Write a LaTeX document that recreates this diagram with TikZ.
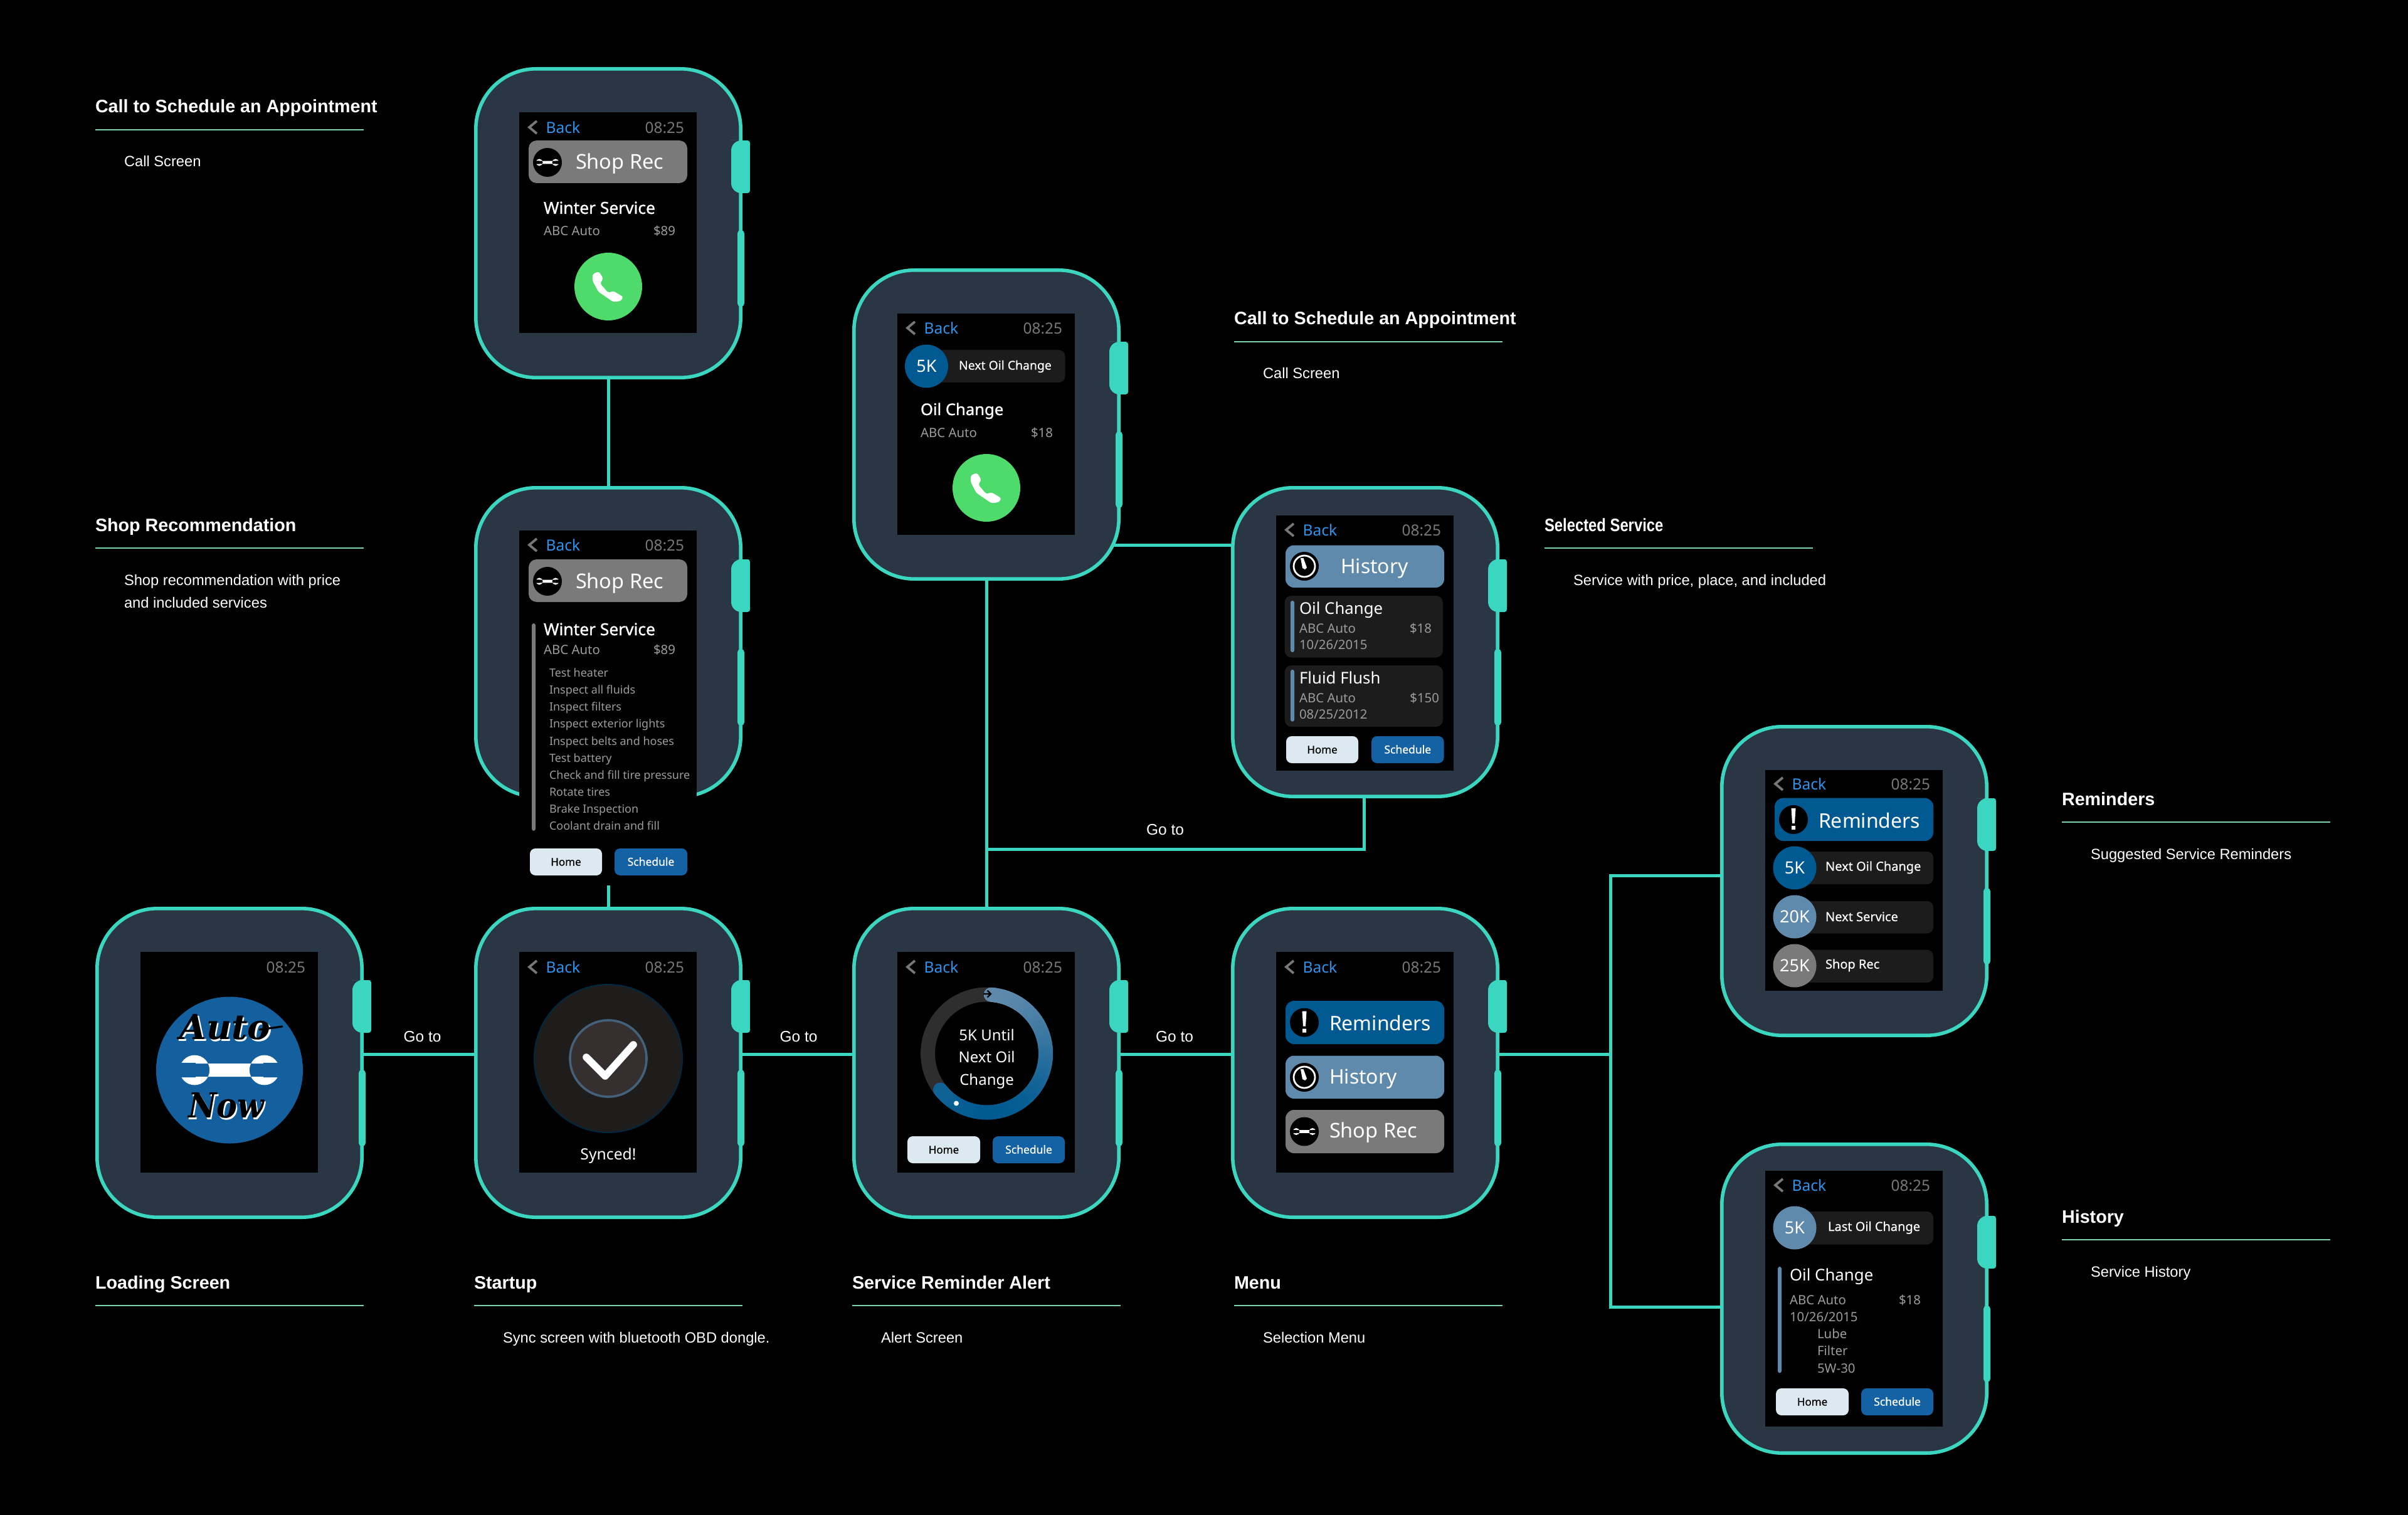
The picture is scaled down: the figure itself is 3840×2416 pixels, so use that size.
\documentclass[tikz,border=0pt]{standalone}
\usepackage{fontspec}
\usetikzlibrary{backgrounds}
\newfontfamily\uifont{Noto Sans}
\newfontfamily\uibold[FakeBold=1.1]{Noto Sans}
\newfontfamily\uimed[FakeBold=.45]{Noto Sans}
\newfontfamily\capfont{Liberation Sans}
\newfontfamily\logofont{DejaVu Serif}
\definecolor{tealc}{HTML}{3AD6BF}
\definecolor{bodyc}{HTML}{2B3644}
\definecolor{rulec}{HTML}{7BD3AE}
\definecolor{backc}{HTML}{2F93EC}
\definecolor{timec}{HTML}{787878}
\definecolor{subc}{HTML}{9C9C9C}
\definecolor{navyc}{HTML}{005A91}
\definecolor{steelc}{HTML}{5F8AAC}
\definecolor{grayc}{HTML}{7A7A7A}
\definecolor{cardc}{HTML}{1C1C1C}
\definecolor{homec}{HTML}{DCE9F1}
\definecolor{schedc}{HTML}{1462A3}
\definecolor{logoc}{HTML}{14609F}
\definecolor{greenc}{HTML}{4FDB6B}
\definecolor{ringc}{HTML}{2E2E2E}
\definecolor{syncc}{HTML}{1E1D1C}
\definecolor{syncd}{HTML}{362F30}
\tikzset{
  watchbody/.style={draw=tealc,fill=bodyc,line width=1.4pt,rounded corners=24pt,
    minimum width=105.6pt,minimum height=123.1pt,inner sep=0pt,outer sep=0pt},
  conn/.style={draw=tealc,line width=1.25pt},
  txt/.style={inner sep=0pt,outer sep=0pt,font=\uifont},
  golabel/.style={inner sep=0pt,outer sep=0pt,text=white,anchor=base,font=\capfont\fontsize{6.12}{7}\selectfont},
}
\newcounter{tn}
\newcommand\szf[1]{\pgfmathsetmacro\szz{#1*.25}\fontsize{\szz}{\szz}\selectfont}
% optional anchor; x, y(baseline), px size, colour, text
\newcommand\tx[6][base west]{\stepcounter{tn}\node[txt,anchor=#1,text=#5,name=t\arabic{tn}] at ({#2},{#3}) {\szf{#4}#6};}
\newcommand\txb[6][base west]{\stepcounter{tn}\node[txt,anchor=#1,text=#5,name=t\arabic{tn}] at ({#2},{#3}) {\uibold\szf{#4}#6};}
\newcommand\txm[6][base west]{\stepcounter{tn}\node[txt,anchor=#1,text=#5,name=t\arabic{tn}] at ({#2},{#3}) {\uimed\szf{#4}#6};}
\newcommand\logotx[5]{\stepcounter{tn}\node[txt,anchor=base,text=#3,name=t\arabic{tn}] at ({#1},{#2}) {\logofont\bfseries\itshape\szf{55}\scalebox{#5}[1]{#4}};}
% caption: x, rule y, title, first line
\newcommand\capt[4]{%
  \stepcounter{tn}\node[inner sep=0pt,outer sep=0pt,anchor=base west,text=white,name=t\arabic{tn}] at (#1,#2-27) {\capfont\bfseries\szf{28.7}#3};
  \draw[rulec,line width=.5pt] (#1,#2) -- (#1+428,#2);
  \stepcounter{tn}\node[inner sep=0pt,outer sep=0pt,anchor=base west,text=white,name=t\arabic{tn}] at (#1+46,#2+59) {\capfont\szf{23.7}#4};}
\newcommand\capline[3]{\stepcounter{tn}\node[inner sep=0pt,outer sep=0pt,anchor=base west,text=white,name=t\arabic{tn}] at (#1,#2) {\capfont\szf{23.7}#3};}
% watch: name, screen top, screen height
\newcommand\watch[3]{%
  \node[watchbody] (#1) at (214,249) {};
  \fill[tealc] (425,117) [rounded corners=1pt] -- (440,117) -- (440,201) -- (425,201) [rounded corners=4pt] -- (410,201) -- (410,117) -- cycle;
  \fill[tealc,rounded corners=1.3pt] (420,260) rectangle (431,382);
  \fill[black] (72,#2) rectangle (355,#2+#3);}
\newcommand\clocktime[1]{\tx[base east]{335}{#1+9.5}{24.4}{timec}{08:25}}
\newcommand\backbar[1]{%
  \draw[timec,line width=.95pt] (100,#1-10) -- (88,#1) -- (100,#1+10);
  \tx{114.5}{#1+9.5}{24.6}{backc}{Back}\clocktime{#1}}
\newcommand\rr[6]{\fill[#5,rounded corners=#6pt] (#1,#2) rectangle (#3,#4);}
\newcommand\hometwo[5]{% home x1, x2, sched x1, sched x2 ; y top
  \rr{#1}{#5}{#2}{#5+43}{homec}{2.2}\rr{#3}{#5}{#4}{#5+43}{schedc}{2.2}
  \txm[base]{(#1+#2)/2}{#5+27.5}{17}{black}{Home}\txm[base]{(#3+#4)/2}{#5+27.5}{17.5}{white}{Schedule}}
\newcommand\wrench[4]{% cx cy width notch
  \begin{scope}[shift={(#1,#2)},scale=#3/100]
    \fill[white] (-35,0) circle [radius=15] (35,0) circle [radius=15] (-35,-6.6) rectangle (35,6.6);
    \fill[#4] (-34,-7.3) rectangle (-54,7.3) (34,-7.3) rectangle (54,7.3);
  \end{scope}}
\newcommand\iconwrench[2]{\fill[black] (#1,#2) circle [radius=23];\wrench{#1}{#2}{37}{black}}
\newcommand\iconalert[2]{\fill[black] (#1,#2) circle [radius=23];
  \begin{scope}[shift={(#1,#2)}]
  \fill[white] (-3.5,-18) -- (3.5,-18) -- (2,6) -- (-2,6) -- cycle (-3,10) rectangle (3,16);
  \end{scope}}
\newcommand\iconclock[2]{\fill[black] (#1,#2) circle [radius=23];
  \begin{scope}[shift={(#1,#2)}]
  \draw[white,line width=.7pt] (0,0) circle [radius=17];
  \fill[white] (-6,-13) -- (-1.5,-13) -- (4,2) -- (1,5) -- (-3,3) -- cycle;
  \end{scope}}
\newcommand\phonebtn{%
  \fill[greenc] (214,350) circle [radius=54];
  \begin{scope}[shift={(214,350)}]
  \fill[white,rounded corners=.8pt] (-25,-20) -- (-15,-24) -- (-8,-13) -- (-13,-5) -- (0,10) -- (8,7) -- (24,16.5) -- (20,23) -- (8,24.5) -- (-16,8) -- (-25,-9) -- cycle;
  \end{scope}}
\newcommand\pill[8]{% y1 y2 cy colour label text xtext text baseline
  \rr{100}{#1}{340}{#2}{cardc}{2.5}
  \fill[#4] (119,#3) circle [radius=34.5];
  \tx[base]{119}{#3+9.5}{27}{white}{#5}
  \txm{#7}{#8}{20}{white}{#6}}
\begin{document}
\begin{tikzpicture}[x=.25pt,y=-.25pt]
\useasboundingbox (0,0) rectangle (3840,2416);
% ---- W1
\begin{scope}[shift={(756,107)}]
 \watch{w1}{72}{352}\backbar{96}
 \rr{87}{117}{340}{185}{grayc}{3.2}\iconwrench{117}{152}
 \tx{162}{163}{32.5}{white}{Shop Rec}
 \txb{111}{234}{26.4}{white}{Winter Service}
 \tx{111}{269}{20.4}{subc}{ABC Auto}\tx[base east]{321}{269}{20.4}{subc}{\$89}
 \phonebtn
\end{scope}
% ---- W2
\begin{scope}[shift={(756,775)}]
 \watch{w2}{71}{566}\backbar{94}
 \rr{87}{117}{340}{185}{grayc}{3.2}\iconwrench{117}{152}
 \tx{162}{163}{32.5}{white}{Shop Rec}
 \rr{92}{219}{98}{550}{grayc}{.8}
 \txb{111}{238}{26.4}{white}{Winter Service}
 \tx{111}{268.7}{20.4}{subc}{ABC Auto}\tx[base east]{321}{268.7}{20.4}{subc}{\$89}
 \tx{120}{304.6}{18}{subc}{Test heater}
 \tx{120}{331.7}{18}{subc}{Inspect all fluids}
 \tx{120}{358.8}{18}{subc}{Inspect filters}
 \tx{120}{385.9}{18}{subc}{Inspect exterior lights}
 \tx{120}{413}{18}{subc}{Inspect belts and hoses}
 \tx{120}{440.1}{18}{subc}{Test battery}
 \tx{120}{467.2}{18}{subc}{Check and fill tire pressure}
 \tx{120}{494.3}{18}{subc}{Rotate tires}
 \tx{120}{521.4}{18}{subc}{Brake Inspection}
 \tx{120}{548.5}{18}{subc}{Coolant drain and fill}
 \hometwo{89}{204}{224}{340}{578}
\end{scope}
% ---- W3
\begin{scope}[shift={(152,1446)}]
 \watch{w3}{72}{352}\clocktime{96}
 \fill[logoc] (214,260.5) circle [radius=117];
 \wrench{214}{260.5}{159}{logoc}
 \logotx{209.5}{214}{white}{Auto}{1}
 \logotx{207}{211}{black}{Auto}{1}
 \draw[black,line width=.8pt,line cap=round] (262,196) -- (298,191);
 \logotx{211}{339}{white}{Now}{.9}
 \logotx{208.5}{336}{black}{Now}{.9}
\end{scope}
% ---- W4
\begin{scope}[shift={(756,1446)}]
 \watch{w4}{72}{352}\backbar{96}
 \filldraw[fill=syncc,draw=black!55!navyc,line width=.5pt] (214,242) circle [radius=118];
 \filldraw[fill=syncd,draw=steelc!70!black,line width=.9pt] (214,242) circle [radius=61];
 \draw[white,line width=2.9pt,line cap=round,line join=round] (179,240) -- (209,270) -- (254,220);
 \tx[base]{214}{403}{24.7}{white}{Synced!}
\end{scope}
% ---- W5
\begin{scope}[shift={(1359,1446)}]
 \watch{w5}{72}{352}\backbar{96}
 \draw[ringc,line width=5.75pt] (214.6,234) circle [radius=94];
 \foreach \a in {86,82,...,-138}{
   \pgfmathsetmacro\p{100*(1+sin(\a))/2}
   \pgfmathsetmacro\xa{214.6+94*cos(\a)}
   \pgfmathsetmacro\ya{234-94*sin(\a)}
   \pgfmathsetmacro\xb{214.6+94*cos(\a-4)}
   \pgfmathsetmacro\yb{234-94*sin(\a-4)}
   \draw[steelc!\p!navyc,line width=5.75pt,line cap=round] (\xa,\ya) -- (\xb,\yb);
 }
 \draw[black,line width=.55pt] (209,139) -- (221,139) (215.5,133.5) -- (221,139) -- (215.5,144.5);
 \fill[white] (166,313.5) circle [radius=4];
 \tx[base]{214.6}{213}{24}{white}{5K Until}
 \tx[base]{214.6}{248}{24}{white}{Next Oil}
 \tx[base]{214.6}{284}{24}{white}{Change}
 \hometwo{88}{204}{224}{339}{366}
\end{scope}
% ---- W6
\begin{scope}[shift={(1963,1446)}]
 \watch{w6}{72}{352}\backbar{96}
 \rr{87}{150}{340}{219}{navyc}{3.4}\iconalert{117}{184.5}
 \tx{157}{197}{32}{white}{Reminders}
 \rr{87}{237.5}{340}{306}{steelc}{3.4}\iconclock{117}{272}
 \tx{157}{282}{32}{white}{History}
 \rr{87}{324}{340}{393}{grayc}{3.4}\iconwrench{117}{358.5}
 \tx{157}{368}{32.5}{white}{Shop Rec}
\end{scope}
% ---- W7
\begin{scope}[shift={(1359,428)}]
 \watch{w7}{72}{353}\backbar{95}
 \rr{100}{130}{339.5}{182}{cardc}{2.5}
 \fill[navyc] (118.5,156) circle [radius=34.5];
 \tx[base]{118.5}{165.5}{27}{white}{5K}
 \txm{170}{161.5}{19.4}{white}{Next Oil Change}
 \txb{109}{234}{25.6}{white}{Oil Change}
 \tx{109}{270}{20.4}{subc}{ABC Auto}\tx[base east]{320}{270}{20.4}{subc}{\$18}
 \phonebtn
\end{scope}
% ---- W8
\begin{scope}[shift={(1963,775)}]
 \watch{w8}{47}{407}\backbar{70}
 \rr{87}{94.5}{340}{162}{steelc}{3.4}\iconclock{117}{128}
 \tx{175}{139}{32}{white}{History}
 \rr{85.5}{175}{338}{273.5}{cardc}{2.8}
 \rr{95}{183}{101}{265}{steelc}{.7}
 \tx{109}{204.5}{25.8}{white}{Oil Change}
 \tx{109}{234}{20.4}{subc}{ABC Auto}\tx[base east]{320}{234}{20.4}{subc}{\$18}
 \tx{109}{260.6}{20.4}{subc}{10/26/2015}
 \rr{85.5}{286}{338}{384}{cardc}{2.8}
 \rr{95}{293}{101}{375.6}{steelc}{.7}
 \tx{109}{315}{25.8}{white}{Fluid Flush}
 \tx{109}{345}{20.4}{subc}{ABC Auto}\tx[base east]{332}{345}{20.4}{subc}{\$150}
 \tx{109}{371}{20.4}{subc}{08/25/2012}
 \hometwo{88}{203}{224}{339.5}{399}
\end{scope}
% ---- W9
\begin{scope}[shift={(2743,1156)}]
 \watch{w9}{72}{352}\backbar{94}
 \rr{87}{116.6}{340}{185}{navyc}{3.4}\iconalert{117}{151}
 \tx{157}{164}{32}{white}{Reminders}
 \pill{202}{254}{228}{navyc}{5K}{Next Oil Change}{168}{232.6}
 \pill{281}{332.5}{306}{steelc}{20K}{Next Service}{168}{313}
 \pill{358.6}{411}{384}{grayc}{25K}{Shop Rec}{168}{388.6}
\end{scope}
% ---- W10
\begin{scope}[shift={(2743,1822)}]
 \watch{w10}{45}{408}\backbar{68}
 \pill{110}{162.6}{136}{steelc}{5K}{Last Oil Change}{172}{141}
 \rr{92}{198}{98}{367.5}{steelc}{.8}
 \tx{111}{220}{25.8}{white}{Oil Change}
 \tx{111}{258}{20.4}{subc}{ABC Auto}\tx[base east]{320}{258}{20.4}{subc}{\$18}
 \tx{111}{285.5}{20.4}{subc}{10/26/2015}
 \tx{155}{312}{20.4}{subc}{Lube}
 \tx{155}{339.6}{20.4}{subc}{Filter}
 \tx{155}{367}{20.4}{subc}{5W-30}
 \hometwo{89}{205}{225}{340}{392}
\end{scope}
% ---- captions
\capt{152}{207}{Call to Schedule an Appointment}{Call Screen}
\capt{152}{874}{Shop Recommendation}{Shop recommendation with price}
\capline{198}{969}{and included services}
\capt{152}{2082}{Loading Screen}{}
\capt{756}{2082}{Startup}{Sync screen with bluetooth OBD dongle.}
\capt{1359}{2082}{Service Reminder Alert}{Alert Screen}
\capt{1968}{2082}{Menu}{Selection Menu}
\capt{1968}{545}{Call to Schedule an Appointment}{Call Screen}
\capt{2463}{874}{\scalebox{.83}[1]{Selected Service}}{Service with price, place, and included}
\capt{3288}{1311}{Reminders}{Suggested Service Reminders}
\capt{3288}{1977}{History}{Service History}
% ---- go-to labels
\node[golabel] (g1) at (673.5,1661) {Go to};
\node[golabel] (g2) at (1273.5,1661) {Go to};
\node[golabel] (g3) at (1873,1661) {Go to};
\node[golabel] (g4) at (1858,1331) {Go to};
% ---- connectors behind everything
\coordinate (hy) at (0,1681);
\coordinate (y78) at (1700,869);
\coordinate (y85) at (0,1354);
\coordinate (bus) at (2568,1681);
\coordinate (bt) at (2568,1396);
\coordinate (bb) at (2568,2084);
\begin{pgfonlayer}{background}
 \fill[black] (0,0) rectangle (3840,2416);
 \draw[conn] (w1.south) -- (w2.north);
 \draw[conn] (w2.south) -- (w4.north);
 \draw[conn] (w3.east |- hy) -- (w4.west |- hy);
 \draw[conn] (w4.east |- hy) -- (w5.west |- hy);
 \draw[conn] (w5.east |- hy) -- (w6.west |- hy);
 \draw[conn] (w6.east |- hy) -- (bus);
 \draw[conn] (w9.west |- bt) -- (bt) -- (bb) -- (w10.west |- bb);
 \draw[conn] (w5.north) -- (w7.south);
 \draw[conn] (y78) -- (w8.west |- y78);
 \draw[conn] ([xshift=-.5pt]w8.south) -- ([xshift=-.5pt]w8.south |- y85) -- (w5.north |- y85);
\end{pgfonlayer}
\end{tikzpicture}
\end{document}
